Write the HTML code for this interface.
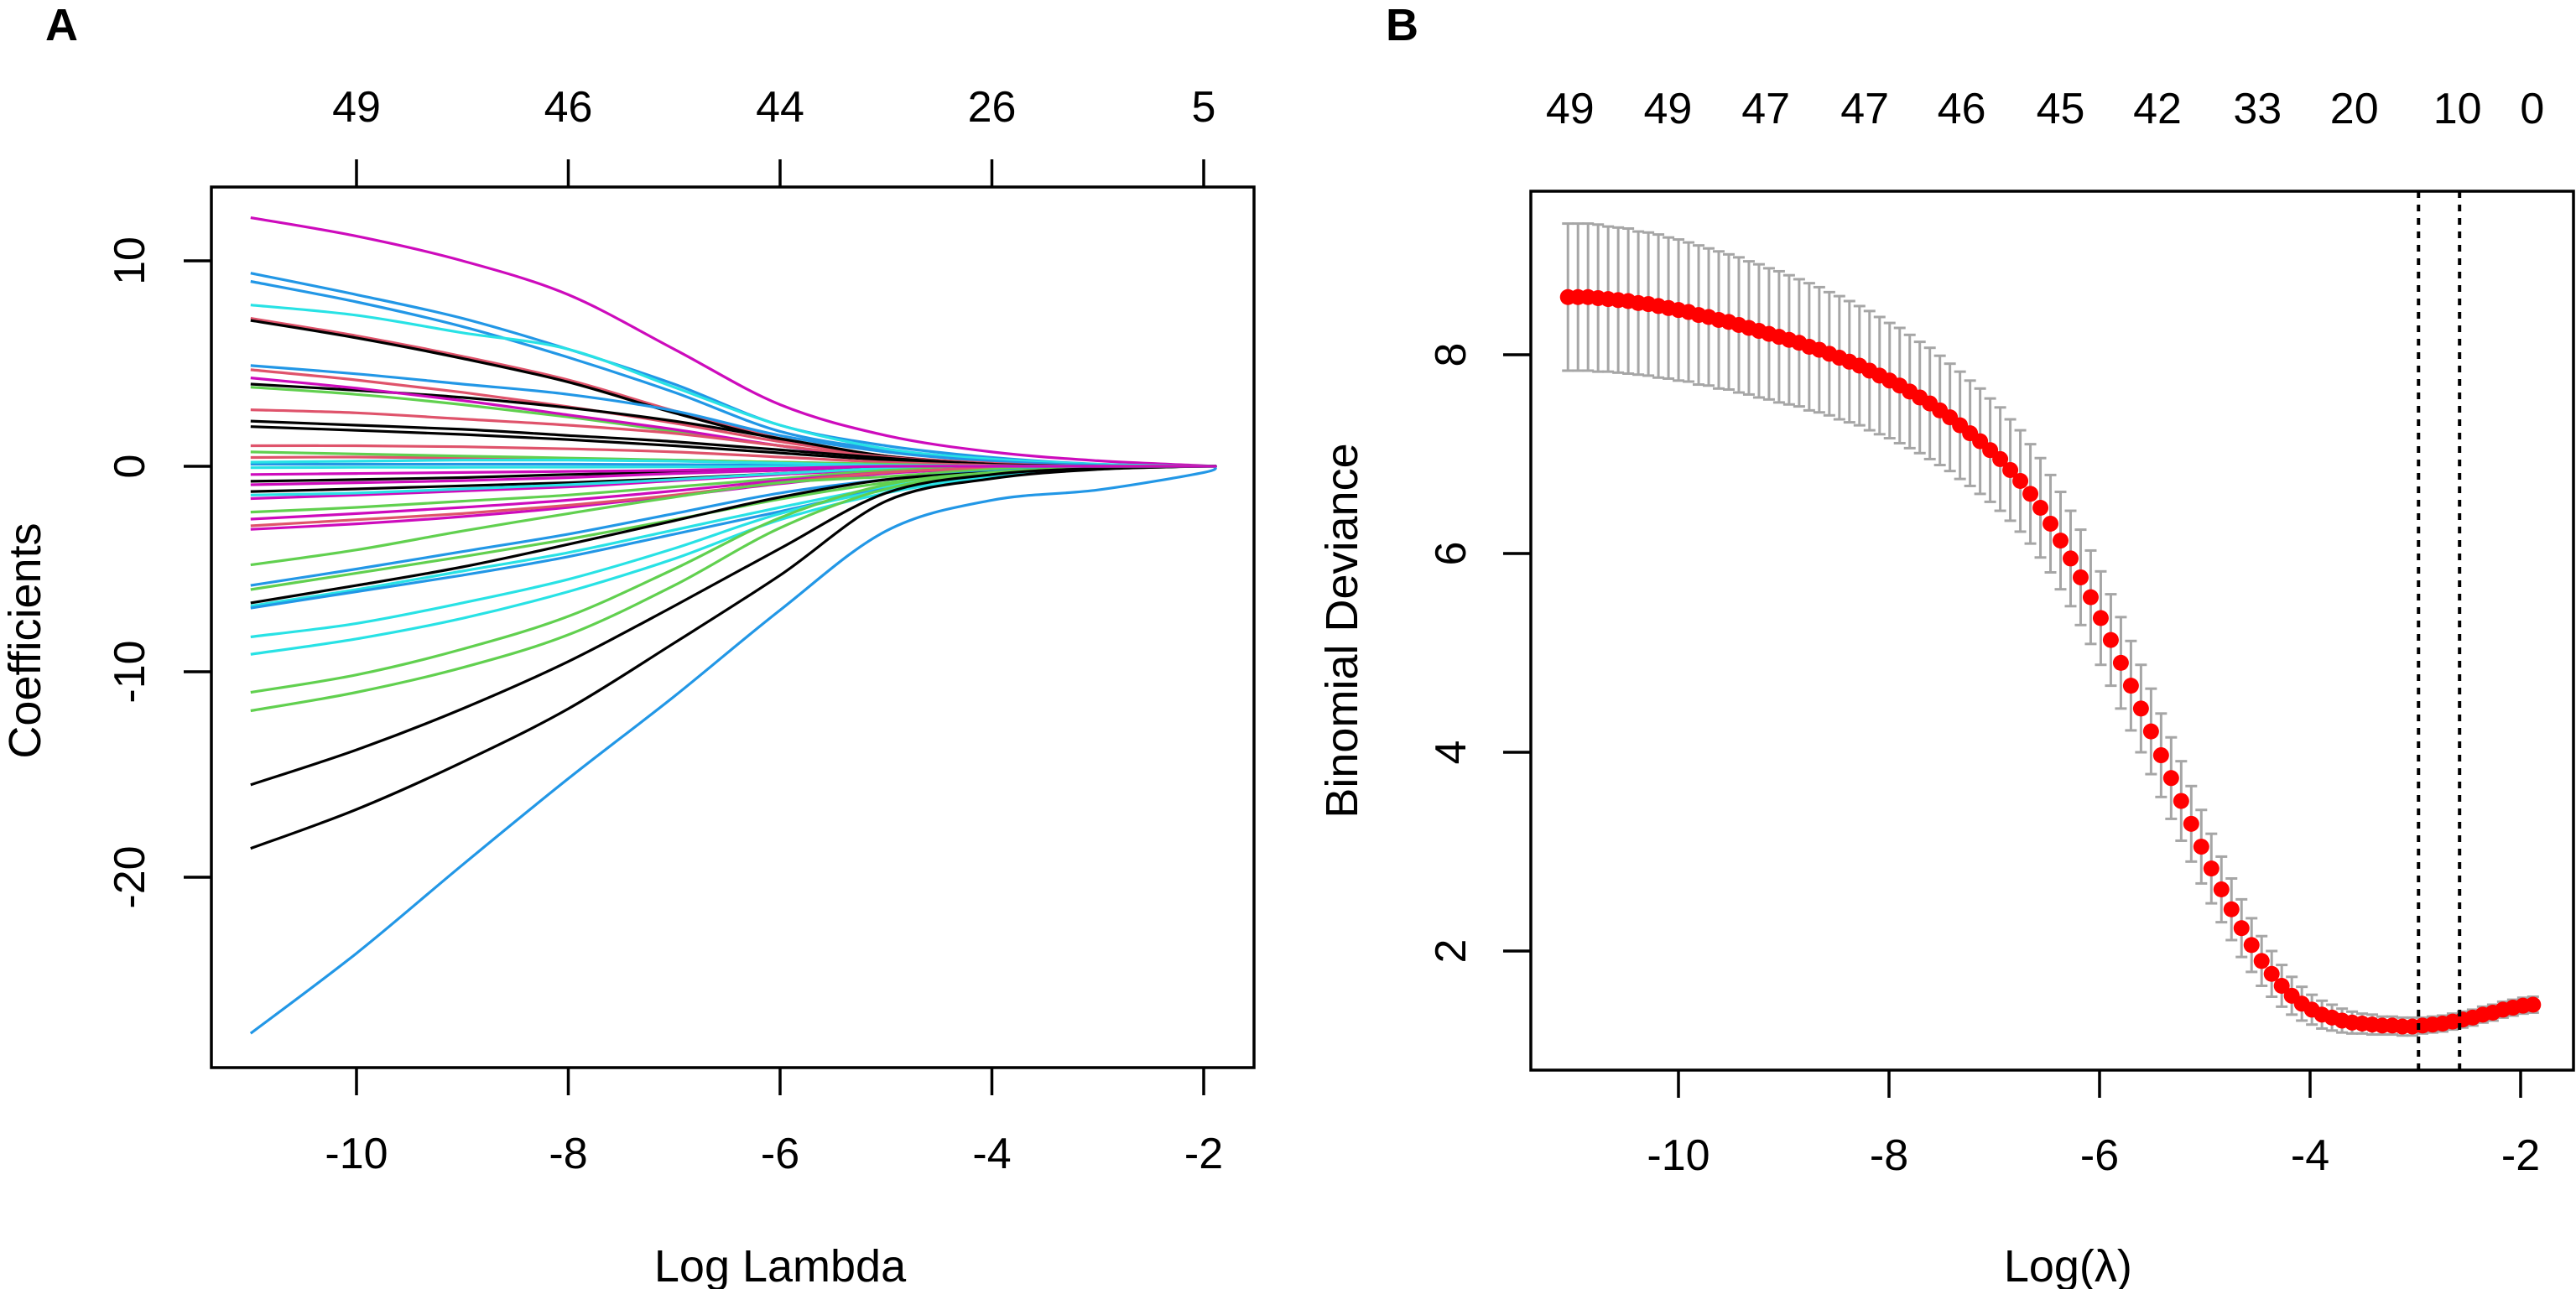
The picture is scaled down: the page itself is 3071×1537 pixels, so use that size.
<!DOCTYPE html>
<html><head><meta charset="utf-8"><style>
html,body{margin:0;padding:0;background:#fff;}
svg{display:block;}
text{font-family:"Liberation Sans",Arial,sans-serif;fill:#000;}
</style></head><body>
<svg id="chart" width="3071" height="1537" viewBox="0 0 3071 1537" xmlns="http://www.w3.org/2000/svg">
<rect x="0" y="0" width="3071" height="1537" fill="#fff"/>
<g id="panelA"></g>
<g id="panelB"></g>
</svg>
<script>
// ---------- Panel A data ----------
const knotsA = [-11,-10,-9,-8,-7,-6,-5,-4,-3,-2,-1.9];
const xTicksA = [-10,-8,-6,-4,-2];
const yTicksA = [10,0,-10,-20];
const topTickPosA = [-10,-8,-6,-4,-2];
const topTickLabelsA = ["49","46","44","26","5"];
const pathColors = ["#CD0BBC","#2297E6","#2297E6","#28E2E5","#DF536B","#000000","#2297E6","#DF536B","#000000","#61D04F","#CD0BBC","#DF536B","#000000","#000000","#DF536B","#DF536B","#2297E6","#28E2E5","#000000","#CD0BBC","#000000","#CD0BBC","#28E2E5","#61D04F","#CD0BBC","#CD0BBC","#DF536B","#61D04F","#2297E6","#61D04F","#000000","#28E2E5","#2297E6","#28E2E5","#28E2E5","#61D04F","#61D04F","#000000","#000000","#2297E6","#61D04F","#28E2E5","#CD0BBC"];
const p01=[12.1,11.2,10.0,8.35,5.7,3.0,1.5,0.7,0.27,0.03,0];
const p02=[9.4,8.35,7.2,5.7,4.0,2.0,1.0,0.43,0.1,0,0];
const p03=[9.0,8.0,6.8,5.3,3.6,1.7,0.8,0.3,0.05,0,0];
const p04=[7.85,7.35,6.5,5.7,3.85,2.0,0.85,0.35,0.1,0,0];
const p05=[7.2,6.35,5.35,4.2,2.7,1.35,0.5,0.15,0,0,0];
const p06=[7.1,6.25,5.25,4.1,2.6,1.3,0.45,0.12,0,0,0];
const p07=[4.9,4.5,4.0,3.5,2.7,1.5,0.7,0.25,0.05,0,0];
const p08=[4.7,4.2,3.6,2.9,2.1,1.2,0.5,0.15,0,0,0];
const p09=[4.0,3.7,3.35,2.85,2.2,1.35,0.5,0.1,0,0,0];
const p10=[3.85,3.5,3.0,2.4,1.7,1.0,0.4,0.1,0,0,0];
const p11=[4.3,3.8,3.2,2.5,1.8,1.0,0.4,0.1,0,0,0];
const p12=[2.75,2.6,2.3,2.0,1.6,1.0,0.45,0.1,0,0,0];
const p13=[2.2,2.0,1.8,1.5,1.2,0.8,0.4,0.1,0,0,0];
const p14=[1.93,1.75,1.55,1.3,1.0,0.65,0.3,0.05,0,0,0];
const p15=[1.0,1.0,0.95,0.85,0.7,0.45,0.2,0.05,0,0,0];
const p16=[0.43,0.45,0.4,0.35,0.3,0.2,0.1,0,0,0,0];
const p17=[0.1,0.1,0.1,0.1,0.08,0.05,0.03,0,0,0,0];
const p18=[-0.07,-0.05,-0.05,-0.04,-0.03,-0.02,0,0,0,0,0];
const p19=[-0.73,-0.65,-0.55,-0.4,-0.3,-0.15,-0.05,0,0,0,0];
const p20=[-0.9,-0.8,-0.7,-0.55,-0.35,-0.2,-0.05,0,0,0,0];
const p21=[-1.23,-1.1,-0.95,-0.8,-0.6,-0.35,-0.1,0,0,0,0];
const p22=[-1.57,-1.4,-1.2,-1.0,-0.7,-0.4,-0.15,-0.03,0,0,0];
const p23=[-1.4,-1.3,-1.1,-0.9,-0.65,-0.35,-0.1,0,0,0,0];
const p24=[-2.23,-2.0,-1.7,-1.4,-1.0,-0.6,-0.2,-0.05,0,0,0];
const p25=[-2.57,-2.3,-2.0,-1.65,-1.2,-0.7,-0.3,-0.08,0,0,0];
const p26=[-3.07,-2.8,-2.45,-2.0,-1.45,-0.85,-0.35,-0.1,0,0,0];
const p27=[-2.9,-2.6,-2.3,-1.9,-1.4,-0.8,-0.3,-0.08,0,0,0];
const p28=[-4.8,-4.07,-3.15,-2.3,-1.5,-0.8,-0.5,-0.15,0,0,0];
const p29=[-5.8,-5.0,-4.15,-3.3,-2.3,-1.3,-0.65,-0.25,-0.05,0,0];
const p30=[-6.0,-5.2,-4.4,-3.55,-2.6,-1.6,-0.8,-0.3,-0.05,0,0];
const p31=[-6.65,-5.8,-4.9,-3.8,-2.65,-1.5,-0.65,-0.3,-0.1,0,0];
const p32=[-6.8,-6.0,-5.1,-4.2,-3.1,-2.0,-1.0,-0.35,-0.07,0,0];
const p33=[-6.9,-6.1,-5.3,-4.4,-3.3,-2.2,-1.1,-0.4,-0.1,0,0];
const p34=[-8.3,-7.65,-6.65,-5.5,-4.0,-2.3,-1.15,-0.45,-0.1,0,0];
const p35=[-9.15,-8.4,-7.4,-6.1,-4.5,-2.6,-1.3,-0.5,-0.1,0,0];
const p36=[-11.0,-10.15,-8.9,-7.3,-5.0,-2.5,-0.9,-0.3,-0.05,0,0];
const p37=[-11.9,-11.0,-9.8,-8.2,-5.8,-3.0,-1.1,-0.35,-0.05,0,0];
const p38=[-15.5,-13.8,-11.8,-9.5,-6.8,-4.0,-1.3,-0.4,-0.1,0,0];
const p39=[-18.6,-16.7,-14.4,-11.8,-8.6,-5.3,-1.7,-0.6,-0.15,0,0];
const p40=[-27.6,-23.7,-19.4,-15.2,-11.2,-7.0,-3.15,-1.65,-1.15,-0.3,0];
const p41=[0.7,0.6,0.5,0.4,0.3,0.2,0.1,0,0,0,0];
const p42=[0.2,0.25,0.3,0.3,0.25,0.15,0.05,0,0,0,0];
const p43=[-0.4,-0.35,-0.3,-0.25,-0.2,-0.1,0,0,0,0,0];
const coefPaths=[p01,p02,p03,p04,p05,p06,p07,p08,p09,p10,p11,p12,p13,p14,p15,p16,p17,p18,p19,p20,p21,p22,p23,p24,p25,p26,p27,p28,p29,p30,p31,p32,p33,p34,p35,p36,p37,p38,p39,p40,p41,p42,p43];

// ---------- Panel B data ----------
const lambdaStartB = -11.05;
const lambdaStepB = 0.0955;
const deviance = [8.58,8.58,8.58,8.57,8.56,8.55,8.54,8.52,8.51,8.49,8.47,8.45,8.43,8.40,8.38,8.35,8.33,8.30,8.27,8.24,8.21,8.18,8.15,8.12,8.08,8.05,8.01,7.97,7.93,7.89,7.84,7.79,7.74,7.69,7.63,7.57,7.51,7.44,7.37,7.29,7.21,7.13,7.04,6.95,6.84,6.73,6.60,6.46,6.30,6.13,5.95,5.76,5.56,5.35,5.13,4.90,4.67,4.44,4.21,3.97,3.74,3.51,3.28,3.05,2.83,2.62,2.42,2.23,2.06,1.90,1.77,1.65,1.55,1.47,1.41,1.36,1.33,1.30,1.28,1.27,1.26,1.25,1.25,1.24,1.24,1.25,1.26,1.27,1.29,1.31,1.33,1.36,1.38,1.41,1.43,1.45,1.46];
const devianceSE = [0.74,0.74,0.74,0.74,0.73,0.73,0.73,0.72,0.72,0.72,0.71,0.71,0.70,0.70,0.69,0.69,0.68,0.68,0.67,0.67,0.66,0.66,0.65,0.64,0.64,0.63,0.62,0.62,0.61,0.60,0.60,0.59,0.58,0.58,0.57,0.56,0.56,0.55,0.54,0.54,0.53,0.53,0.52,0.52,0.51,0.51,0.50,0.50,0.49,0.49,0.48,0.48,0.47,0.47,0.46,0.46,0.45,0.44,0.43,0.42,0.41,0.40,0.38,0.37,0.35,0.33,0.31,0.29,0.27,0.25,0.23,0.21,0.19,0.17,0.15,0.14,0.13,0.12,0.11,0.10,0.10,0.09,0.09,0.09,0.09,0.08,0.08,0.08,0.08,0.08,0.08,0.08,0.08,0.08,0.08,0.08,0.08];
const xTicksB = [-10,-8,-6,-4,-2];
const yTicksB = [2,4,6,8];
const topTickPosB = [-11.03,-10.1,-9.17,-8.23,-7.31,-6.37,-5.45,-4.5,-3.58,-2.6,-1.89];
const topTickLabelsB = ["49","49","47","47","46","45","42","33","20","10","0"];
const cutoffLines = [-2.97,-2.58];

const NS="http://www.w3.org/2000/svg";
function mk(tag, attrs, parent){const e=document.createElementNS(NS,tag);for(const k in attrs)e.setAttribute(k,attrs[k]);parent.appendChild(e);return e;}

// ----- Panel A scales -----
const A={l:252,r:1495,t:223,b:1273};
const xA = v => 425 + (v+10)*126.25;
const yA = v => 556 - v*24.5;
const gA=document.getElementById('panelA');

function smoothPath(pts){
  let d=`M${pts[0][0].toFixed(1)},${pts[0][1].toFixed(1)}`;
  for(let i=0;i<pts.length-1;i++){
    const p0=pts[Math.max(0,i-1)],p1=pts[i],p2=pts[i+1],p3=pts[Math.min(pts.length-1,i+2)];
    const c1x=p1[0]+(p2[0]-p0[0])/6,c1y=p1[1]+(p2[1]-p0[1])/6;
    const c2x=p2[0]-(p3[0]-p1[0])/6,c2y=p2[1]-(p3[1]-p1[1])/6;
    d+=` C${c1x.toFixed(1)},${c1y.toFixed(1)} ${c2x.toFixed(1)},${c2y.toFixed(1)} ${p2[0].toFixed(1)},${p2[1].toFixed(1)}`;
  }
  return d;
}
coefPaths.forEach((vals,i)=>{
  const pts=vals.map((v,j)=>[xA(knotsA[j]),yA(v)]);
  const p=mk('path',{d:smoothPath(pts),fill:'none',stroke:pathColors[i],'stroke-width':3.2,'stroke-linejoin':'round'},gA);
  
  
});
const boxA=mk('rect',{x:A.l,y:A.t,width:A.r-A.l,height:A.b-A.t,fill:'none',stroke:'#000','stroke-width':3.5},gA);


xTicksA.forEach(v=>{
  const t=mk('line',{x1:xA(v),x2:xA(v),y1:A.b,y2:A.b+33,stroke:'#000','stroke-width':3.5},gA);
  
  
  const l=mk('text',{x:xA(v),y:1393,'font-size':52,'text-anchor':'middle'},gA);l.textContent=String(v).replace('-','-');
  
  
});
topTickPosA.forEach((v,i)=>{
  const t=mk('line',{x1:xA(v),x2:xA(v),y1:A.t,y2:A.t-33,stroke:'#000','stroke-width':3.5},gA);
  
  
  const l=mk('text',{x:xA(v),y:145,'font-size':52,'text-anchor':'middle'},gA);l.textContent=topTickLabelsA[i];
  
  
});
yTicksA.forEach(v=>{
  const t=mk('line',{x1:A.l,x2:A.l-33,y1:yA(v),y2:yA(v),stroke:'#000','stroke-width':3.5},gA);
  
  
  const l=mk('text',{x:0,y:0,'font-size':52,'text-anchor':'middle',transform:`translate(172,${yA(v)}) rotate(-90)`},gA);l.textContent=String(v);
  
  
});
{
  let t=mk('text',{x:xA(-6),y:1528,'font-size':54,'text-anchor':'middle'},gA);t.textContent='Log Lambda';
  
  
  t=mk('text',{x:0,y:0,'font-size':54,'text-anchor':'middle',transform:`translate(48,764) rotate(-90)`},gA);t.textContent='Coefficients';
  
  
  t=mk('text',{x:54,y:48,'font-size':54,'font-weight':'bold'},gA);t.textContent='A';
  
  
}

// ----- Panel B scales -----
const B={l:1825,r:3068,t:228,b:1276};
const xB = v => 2001 + (v+10)*125.5;
const yB = v => 423 - (v-8)*118.5;
const gB=document.getElementById('panelB');
deviance.forEach((v,i)=>{
  const lam=lambdaStartB+i*lambdaStepB, x=xB(lam), se=devianceSE[i];
  const g=mk('g',{},gB);
  
  
  mk('line',{x1:x,x2:x,y1:yB(v+se),y2:yB(v-se),stroke:'#A6A6A6','stroke-width':3},g);
  mk('line',{x1:x-7,x2:x+7,y1:yB(v+se),y2:yB(v+se),stroke:'#A6A6A6','stroke-width':3},g);
  mk('line',{x1:x-7,x2:x+7,y1:yB(v-se),y2:yB(v-se),stroke:'#A6A6A6','stroke-width':3},g);
});
deviance.forEach((v,i)=>{
  const lam=lambdaStartB+i*lambdaStepB;
  const c=mk('circle',{cx:xB(lam),cy:yB(v),r:9.5,fill:'#FF0000'},gB);
  
  
});
cutoffLines.forEach((v,i)=>{
  const l=mk('line',{x1:xB(v),x2:xB(v),y1:B.t,y2:B.b,stroke:'#000','stroke-width':4,'stroke-dasharray':'8,8'},gB);
  
  
});
const boxB=mk('rect',{x:B.l,y:B.t,width:B.r-B.l,height:B.b-B.t,fill:'none',stroke:'#000','stroke-width':3.5},gB);


xTicksB.forEach(v=>{
  const t=mk('line',{x1:xB(v),x2:xB(v),y1:B.b,y2:B.b+33,stroke:'#000','stroke-width':3.5},gB);
  
  
  const l=mk('text',{x:xB(v),y:1395,'font-size':52,'text-anchor':'middle'},gB);l.textContent=String(v);
  
  
});
topTickPosB.forEach((v,i)=>{
  const l=mk('text',{x:xB(v),y:147,'font-size':52,'text-anchor':'middle'},gB);l.textContent=topTickLabelsB[i];
  
  
});
yTicksB.forEach(v=>{
  const t=mk('line',{x1:B.l,x2:B.l-33,y1:yB(v),y2:yB(v),stroke:'#000','stroke-width':3.5},gB);
  
  
  const l=mk('text',{x:0,y:0,'font-size':52,'text-anchor':'middle',transform:`translate(1747,${yB(v)}) rotate(-90)`},gB);l.textContent=String(v);
  
  
});
{
  let t=mk('text',{x:xB(-6.3),y:1528,'font-size':54,'text-anchor':'middle'},gB);t.textContent='Log(λ)';
  
  
  t=mk('text',{x:0,y:0,'font-size':54,'text-anchor':'middle',transform:`translate(1618,752) rotate(-90)`},gB);t.textContent='Binomial Deviance';
  
  
  t=mk('text',{x:1652,y:48,'font-size':54,'font-weight':'bold'},gB);t.textContent='B';
  
  
}
</script>
</body></html>
